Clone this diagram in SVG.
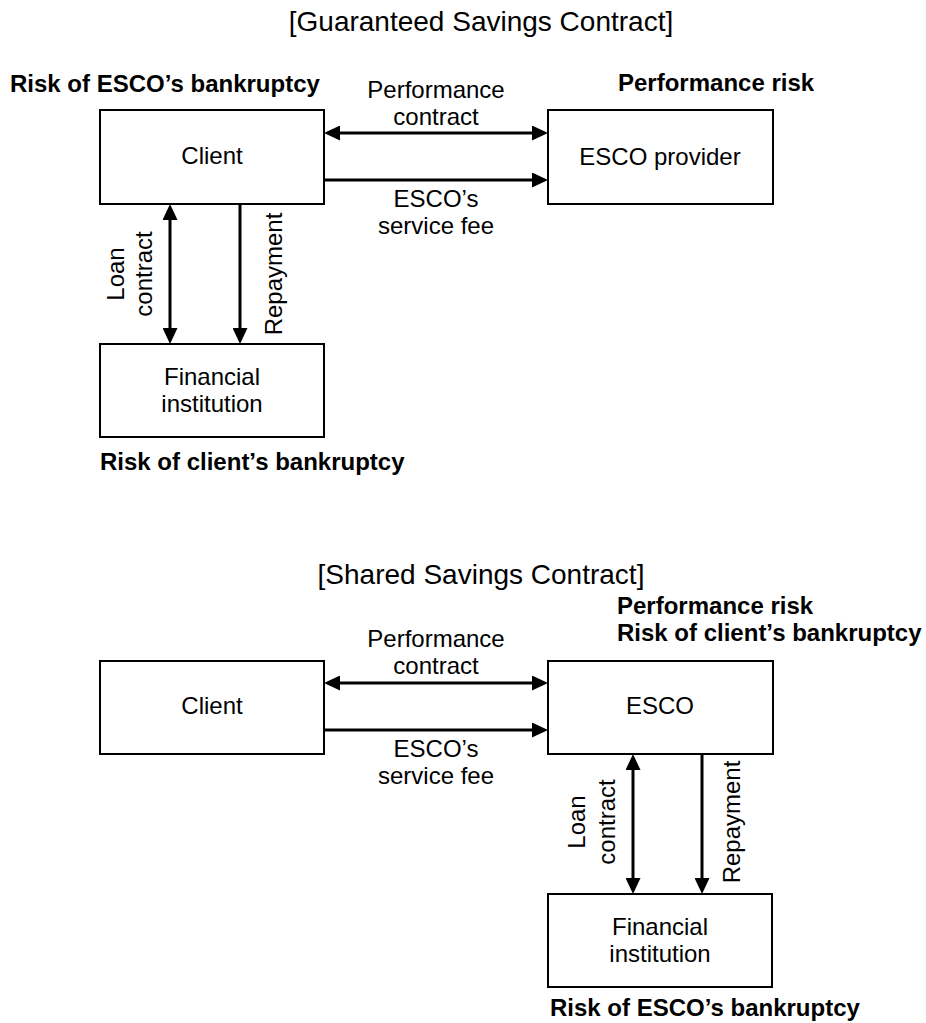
<svg xmlns="http://www.w3.org/2000/svg" width="926" height="1023" viewBox="0 0 926 1023">
<style>
text{font-family:"Liberation Sans",Arial,sans-serif;fill:#000}
.t{font-size:28px;text-anchor:middle}
.l{font-size:24px;text-anchor:middle}
.b{font-size:24px;font-weight:bold}
.box{fill:#fff;stroke:#000;stroke-width:2}
.c{stroke:#000;stroke-width:3;fill:none}
.one{marker-end:url(#ah)}
.two{marker-end:url(#ah);marker-start:url(#ah)}
</style>
<defs>
<marker id="ah" viewBox="0 0 16 15" refX="8" refY="7.5" markerWidth="16" markerHeight="15" markerUnits="userSpaceOnUse" orient="auto-start-reverse">
<path d="M0,0 L16,7.5 L0,15 z" fill="#000"/>
</marker>
</defs>
<rect width="926" height="1023" fill="#fff"/>
<text class="t" x="481" y="31">[Guaranteed Savings Contract]</text>
<text class="t" x="481" y="584">[Shared Savings Contract]</text>
<g id="risk-labels">
<text class="b" x="10" y="92">Risk of ESCO’s bankruptcy</text>
<text class="b" x="618" y="91">Performance risk</text>
<text class="b" x="100" y="470">Risk of client’s bankruptcy</text>
<text class="b" x="617" y="614">Performance risk</text>
<text class="b" x="617" y="641">Risk of client’s bankruptcy</text>
<text class="b" x="550" y="1016">Risk of ESCO’s bankruptcy</text>
</g>
<g id="connectors">
<line class="c two" x1="332" y1="133" x2="540" y2="133"/>
<line class="c one" x1="323" y1="180" x2="540" y2="180"/>
<line class="c two" x1="170" y1="212" x2="170" y2="336"/>
<line class="c one" x1="240" y1="203" x2="240" y2="336"/>
<line class="c two" x1="332" y1="683" x2="540" y2="683"/>
<line class="c one" x1="323" y1="730" x2="540" y2="730"/>
<line class="c two" x1="633" y1="762" x2="633" y2="886"/>
<line class="c one" x1="702" y1="753" x2="702" y2="886"/>
</g>
<g id="connector-labels">
<text class="l" x="436" y="98">Performance</text>
<text class="l" x="436" y="125">contract</text>
<text class="l" x="436" y="207">ESCO’s</text>
<text class="l" x="436" y="234">service fee</text>
<text class="l" transform="translate(124,274) rotate(-90)">Loan</text>
<text class="l" transform="translate(152,274) rotate(-90)">contract</text>
<text class="l" transform="translate(282,274) rotate(-90)">Repayment</text>
<text class="l" x="436" y="647">Performance</text>
<text class="l" x="436" y="674">contract</text>
<text class="l" x="436" y="757">ESCO’s</text>
<text class="l" x="436" y="784">service fee</text>
<text class="l" transform="translate(585,822) rotate(-90)">Loan</text>
<text class="l" transform="translate(615,822) rotate(-90)">contract</text>
<text class="l" transform="translate(740,822) rotate(-90)">Repayment</text>
</g>
<g id="client-top">
<rect class="box" x="100" y="110" width="224" height="94"/>
<text class="l" x="212" y="164">Client</text>
</g>
<g id="esco-provider">
<rect class="box" x="548" y="110" width="225" height="94"/>
<text class="l" x="660" y="165">ESCO provider</text>
</g>
<g id="financial-top">
<rect class="box" x="100" y="344" width="224" height="93"/>
<text class="l" x="212" y="385">Financial</text>
<text class="l" x="212" y="412">institution</text>
</g>
<g id="client-bottom">
<rect class="box" x="100" y="661" width="224" height="93"/>
<text class="l" x="212" y="714">Client</text>
</g>
<g id="esco">
<rect class="box" x="548" y="661" width="225" height="93"/>
<text class="l" x="660" y="714">ESCO</text>
</g>
<g id="financial-bottom">
<rect class="box" x="548" y="894" width="224" height="93"/>
<text class="l" x="660" y="935">Financial</text>
<text class="l" x="660" y="962">institution</text>
</g>
</svg>
